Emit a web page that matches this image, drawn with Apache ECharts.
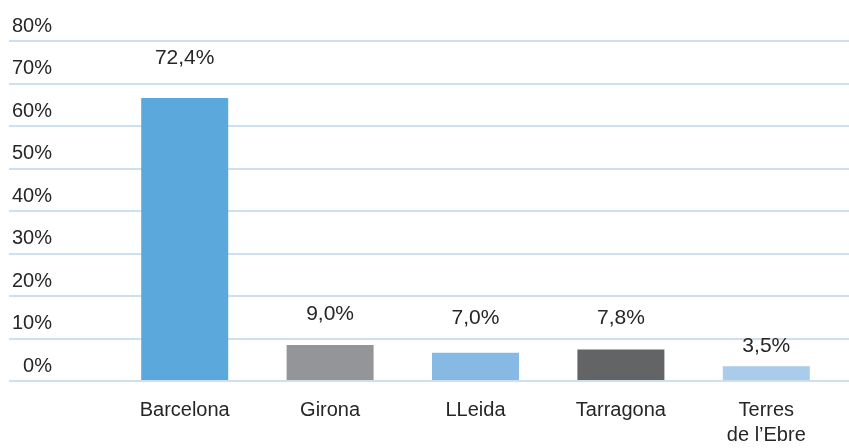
<!DOCTYPE html>
<html>
<head>
<meta charset="utf-8">
<script src="https://cdn.jsdelivr.net/npm/echarts@6/dist/echarts.min.js"></script>
<style>
  html, body { margin: 0; padding: 0; background: #fff; }
  #chart { width: 849px; height: 448px; }
</style>
</head>
<body>
<div id="chart"></div>
<script>
// Regions and share of total (%)
const regions = ["Barcelona", "Girona", "LLeida", "Tarragona", "Terres\nde l\u2019Ebre"];
const shares = [72.4, 9.0, 7.0, 7.8, 3.5];
const yTicks = [0, 10, 20, 30, 40, 50, 60, 70, 80];

// styling
const barColors = ["#5ba8dc", "#939598", "#86b9e3", "#636466", "#aacbea"];
const labelGap = [29, 20, 24, 21, 10];
const gridColor = "#bcd6ee";
const textColor = "#262626";
const font = "'Liberation Sans', Arial, Helvetica, sans-serif";

const fmt = (v) => v.toFixed(1).replace(".", ",") + "%";

const chart = echarts.init(document.getElementById("chart"), null, { renderer: "canvas" });

const option = {
  animation: false,
  textStyle: { fontFamily: font, color: textColor },
  grid: [
    // gridlines + percent labels, full width
    { left: 9, right: 0, top: 41, bottom: 67 },
    // bars
    { left: 112, right: 10, top: 41, bottom: 67 },
  ],
  xAxis: [
    { gridIndex: 0, type: "value", show: false, min: 0, max: 1 },
    {
      gridIndex: 1,
      type: "category",
      data: regions,
      axisLine: { show: false },
      axisTick: { show: false },
      axisLabel: {
        fontFamily: font,
        fontSize: 20,
        color: textColor,
        lineHeight: 25,
        margin: 18,
      },
    },
  ],
  yAxis: [
    {
      gridIndex: 0,
      type: "value",
      min: yTicks[0],
      max: yTicks[yTicks.length - 1],
      interval: 10,
      axisLine: { show: false },
      axisTick: { show: false },
      splitLine: { lineStyle: { color: gridColor, width: 1.5 } },
      axisLabel: {
        fontFamily: font,
        fontSize: 20,
        color: textColor,
        align: "right",
        margin: -43,
        verticalAlign: "bottom",
        padding: [0, 0, 5, 0],
        formatter: (v) => v + "%",
      },
    },
    { gridIndex: 1, type: "value", min: 0, max: 87, show: false, splitLine: { show: false } },
  ],
  series: [
    {
      type: "bar",
      xAxisIndex: 1,
      yAxisIndex: 1,
      barWidth: 87,
      data: shares.map((v, i) => ({
        value: v,
        itemStyle: { color: barColors[i] },
        label: { distance: labelGap[i] },
      })),
      label: {
        show: true,
        position: "top",
        fontFamily: font,
        fontSize: 21,
        lineHeight: 21,
        color: textColor,
        formatter: (p) => fmt(p.value),
      },
    },
  ],
};

chart.setOption(option);
</script>
</body>
</html>
